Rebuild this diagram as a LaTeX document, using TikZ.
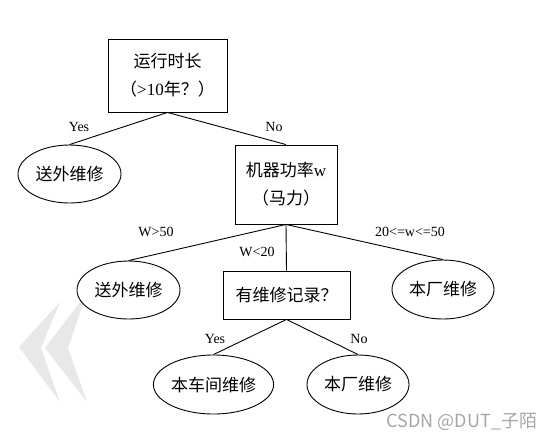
\documentclass[tikz,border=0pt]{standalone}
\usepackage{fontspec}
\setmainfont{Liberation Serif}
\newfontfamily\cjk{Noto Sans CJK SC}
\usetikzlibrary{shapes.geometric}
\begin{document}
\begin{tikzpicture}[x=1pt,y=-1pt,line width=0.9pt,
  decbox/.style={draw,rectangle,fill=white,align=center,inner sep=0pt,font=\fontsize{17}{28}\selectfont},
  leaf/.style={draw,ellipse,fill=white,inner sep=0pt,font=\cjk\fontsize{17}{20}\selectfont},
  lab/.style={inner sep=0pt,font=\fontsize{14}{16}\selectfont},
  mark/.style={fill=black!10,draw=none}]
\useasboundingbox (0,0) rectangle (554,440);
% watermark chevrons
\fill[black!9] (60,302) -- (19,347) -- (60,402) -- (41,348) -- cycle;
\fill[black!9] (87,293) -- (45,348) -- (87,402) -- (68,348) -- cycle;
% nodes
\node[decbox,minimum width=119pt,minimum height=73pt] (root) at (167.5,75.5)
  {{\cjk 运行时长}\\{\cjk （}>10{\cjk 年？）}};
\node[leaf,minimum width=103pt,minimum height=58pt] (l1) at (69.5,174) {送外维修};
\node[decbox,minimum width=102pt,minimum height=79pt] (pow) at (286,184.5)
  {{\cjk 机器功率}w\\{\cjk （马力）}};
\node[leaf,minimum width=103pt,minimum height=58pt] (l2) at (128.5,290) {送外维修};
\node[decbox,minimum width=127pt,minimum height=48pt] (rec) at (286.5,295) {\cjk 有维修记录？};
\node[leaf,minimum width=102pt,minimum height=59pt] (l3) at (443,289.5) {本厂维修};
\node[leaf,minimum width=119pt,minimum height=59pt] (l4) at (213.5,384.5) {本车间维修};
\node[leaf,minimum width=102pt,minimum height=59pt] (l5) at (358,384.5) {本厂维修};
% connectors
\draw (root.south) -- (l1.north);
\draw (root.south) -- (pow.north);
\draw (pow.south) -- (l2.north);
\draw (pow.south) -- (rec.north);
\draw (pow.south) -- (l3.north);
\draw (rec.south) -- (l4.north);
\draw (rec.south) -- (l5.north);
% labels
\node[lab] (ly1) at (79,127) {Yes};
\node[lab] (ln1) at (274,127) {No};
\node[lab] (lw1) at (156,232) {W>50};
\node[lab] (lw2) at (257,252) {W<20};
\node[lab] (lw3) at (410,232) {20<=w<=50};
\node[lab] (ly2) at (215,339) {Yes};
\node[lab] (ln2) at (359,339) {No};
% site watermark text
\node[inner sep=0pt,font=\cjk\fontsize{18}{20}\selectfont,text=black!35] (wm) at (462,422) {CSDN @DUT\_子陌};
\end{tikzpicture}
\end{document}
